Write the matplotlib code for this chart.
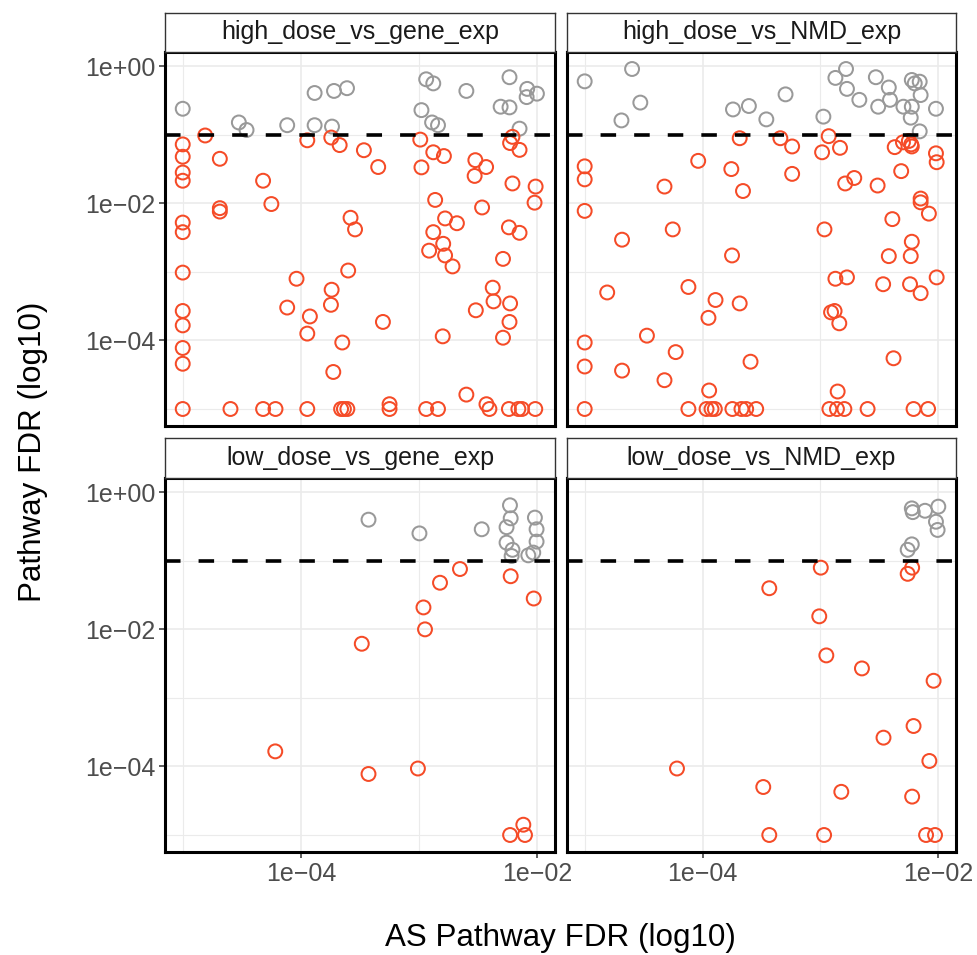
import matplotlib
matplotlib.use("Agg")
import matplotlib.pyplot as plt
import numpy as np

plt.rcParams["font.family"] = ["Liberation Sans", "DejaVu Sans"]

panel_names = [
    "high_dose_vs_gene_exp",
    "high_dose_vs_NMD_exp",
    "low_dose_vs_gene_exp",
    "low_dose_vs_NMD_exp",
]

# log10(AS pathway FDR), log10(pathway FDR)
hg_as = [-5.0, -4.525, -4.46, -4.116, -3.884, -3.884, -3.72, -3.61, -3.737, -2.94,
         -2.88, -2.6, -2.98, -2.89, -2.84, -2.235, -2.31, -2.235, -2.085, -2.09,
         -2.003, -2.15,
         -4.81, -5.0, -5.0, -5.0, -5.0, -4.686, -4.32, -4.25, -4.686, -4.686,
         -5.0, -5.0, -5.0, -5.0, -5.0, -5.0, -5.0, -5.0, -4.596, -4.32,
         -4.215, -3.946, -3.66, -3.636, -3.607, -3.946, -3.743, -3.672, -3.58, -3.542,
         -3.6, -4.037, -3.74, -3.746, -4.116, -3.924, -3.946, -3.65, -3.726, -3.467,
         -3.346, -2.99, -2.98, -2.88, -2.79, -2.524, -2.433, -2.53, -2.864, -2.78,
         -2.68, -2.88, -2.796, -2.915, -2.78, -2.717, -2.467, -2.21, -2.014, -2.023,
         -2.24, -2.15, -2.29, -2.21, -2.23, -2.15, -3.306, -2.8, -2.52, -2.377,
         -2.37, -2.23, -2.235, -2.29, -2.6, -3.25, -3.25, -2.94, -2.84, -2.43,
         -2.405, -2.24, -2.16, -2.13, -2.017]
hg_fdr = [-0.62, -0.82, -0.93, -0.86, -0.39, -0.86, -0.36, -0.32, -0.88, -0.19,
          -0.25, -0.36, -0.64, -0.82, -0.86, -0.16, -0.59, -0.6, -0.33, -0.45,
          -0.4, -0.91,
          -1.01, -1.14, -1.32, -1.55, -1.67, -1.35, -1.67, -2.01, -2.07, -2.12,
          -2.28, -2.42, -3.01, -3.57, -3.78, -4.11, -4.34, -5.0, -5.0, -5.0,
          -5.0, -5.0, -5.0, -5.0, -5.0, -1.08, -1.04, -1.15, -2.21, -2.38,
          -2.98, -3.1, -3.26, -3.48, -3.52, -3.65, -3.9, -4.03, -4.46, -1.225,
          -1.47, -1.07, -1.475, -1.255, -1.31, -1.37, -1.47, -1.6, -1.95, -2.22,
          -2.29, -2.42, -2.59, -2.69, -2.76, -2.92, -2.06, -1.71, -1.755, -1.99,
          -2.35, -2.43, -2.81, -1.03, -1.12, -1.22, -3.73, -3.94, -3.56, -3.23,
          -3.43, -3.46, -3.73, -3.96, -4.79, -4.93, -5.0, -5.0, -5.0, -4.93,
          -5.0, -5.0, -5.0, -5.0, -5.0]

hn_as = [-5.0, -4.598, -4.528, -4.688, -3.742, -3.607, -3.459, -2.783, -2.873, -2.775,
         -2.67, -3.296, -2.975, -2.53, -2.42, -2.51, -2.41, -2.225, -2.2, -2.158,
         -2.15, -2.296, -2.225, -2.234, -2.02, -2.158,
         -3.685, -4.037, -3.756, -3.657, -5.0, -5.0, -4.323, -5.0, -4.253, -4.683,
         -3.75, -4.809, -4.12, -3.89, -3.685, -3.95, -5.0, -4.472, -4.228, -5.0,
         -4.683, -4.323, -3.593, -3.944, -5.0, -4.12, -3.966, -3.924, -3.896, -3.747,
         -3.67, -3.63, -3.545, -3.34, -3.24, -3.24, -2.93, -2.986, -2.834, -2.79,
         -2.713, -2.515, -2.37, -2.3, -2.25, -2.23, -2.225, -2.315, -2.02, -2.014,
         -2.15, -2.15, -2.08, -2.39, -2.966, -2.225, -2.42, -2.234, -2.873, -2.775,
         -2.468, -2.24, -2.15, -2.014, -2.91, -2.88, -2.84, -2.38, -2.854, -2.924,
         -2.86, -2.797, -2.6, -2.21, -2.087]
hn_fdr = [-0.22, -0.04, -0.53, -0.79, -0.63, -0.58, -0.775, -0.04, -0.17, -0.33,
          -0.49, -0.41, -0.735, -0.16, -0.31, -0.59, -0.49, -0.2, -0.25, -0.225,
          -0.42, -0.59, -0.59, -0.75, -0.62, -0.95,
          -1.05, -1.38, -1.5, -1.82, -1.46, -1.65, -1.755, -2.11, -2.38, -2.53,
          -2.76, -3.3, -3.22, -3.41, -3.46, -3.67, -4.03, -3.93, -4.17, -4.38,
          -4.44, -4.58, -4.31, -4.73, -5.0, -5.0, -5.0, -5.0, -5.0, -5.0,
          -5.0, -5.0, -5.0, -1.05, -1.17, -1.57, -1.02, -1.255, -1.19, -1.71,
          -1.63, -1.74, -1.18, -1.11, -1.09, -1.14, -1.17, -1.53, -1.27, -1.4,
          -1.93, -1.985, -2.15, -2.23, -2.38, -2.56, -2.77, -2.77, -3.1, -3.08,
          -3.18, -3.18, -3.31, -3.08, -3.59, -3.57, -3.75, -4.26, -4.745, -5.0,
          -5.0, -5.0, -5.0, -5.0, -5.0]

lg_as = [-3.428, -2.997, -2.47, -2.231, -2.225, -2.26, -2.26, -2.21, -2.217, -2.02,
         -2.006, -2.006, -2.034, -2.076,
         -2.654, -2.823, -2.963, -2.95, -3.485, -2.225, -2.03, -4.217, -3.428, -3.01,
         -2.118, -2.23, -2.104]
lg_fdr = [-0.4, -0.6, -0.54, -0.19, -0.38, -0.51, -0.735, -0.84, -0.93, -0.37,
          -0.54, -0.72, -0.88, -0.92,
          -1.12, -1.32, -1.68, -2.0, -2.21, -1.225, -1.55, -3.78, -4.11, -4.03,
          -4.85, -5.0, -5.0]

ln_as = [-2.225, -2.217, -2.113, -2.0, -2.02, -2.006, -2.225, -2.26,
         -2.997, -2.222, -2.26, -3.434, -3.01, -2.95, -2.648, -2.04, -2.21, -2.465,
         -2.076, -4.217, -3.485, -2.823, -2.222, -3.434, -2.969, -2.104, -2.028]
ln_fdr = [-0.235, -0.29, -0.27, -0.21, -0.43, -0.55, -0.76, -0.84,
          -1.1, -1.1, -1.19, -1.4, -1.81, -2.38, -2.57, -2.75, -3.41, -3.58,
          -3.92, -4.03, -4.3, -4.37, -4.44, -5.0, -5.0, -5.0, -5.0]

panel_x = [hg_as, hn_as, lg_as, ln_as]
panel_y = [hg_fdr, hn_fdr, lg_fdr, ln_fdr]
cutoff = 0.1

sig_col = "#F54B27"
ns_col = "#999999"

W, H = 977, 955
fig = plt.figure(figsize=(W / 100, H / 100), dpi=100)

# shared (fixed) scales with ggplot-style 5% expansion
allx = np.concatenate([np.array(v) for v in panel_x])
ally = np.concatenate([np.array(v) for v in panel_y])
ex = 0.05 * (allx.max() - allx.min())
ey = 0.05 * (ally.max() - ally.min())
xlim = (10 ** (allx.min() - ex), 10 ** (allx.max() + ex))
ylim = (10 ** (ally.min() - ey), 10 ** (ally.max() + ey))

# pixel boxes: (left, right) per column, (top, bottom, strip top) per row
cols = [(165, 555), (567, 956)]
rows = [(52, 426, 13), (478, 852, 438)]

tick_col = "#4D4D4D"
for i in range(4):
    r, c = divmod(i, 2)
    x0, x1 = cols[c]
    y0, y1, st = rows[r]
    ax = fig.add_axes([x0 / W, 1 - y1 / H, (x1 - x0) / W, (y1 - y0) / H])
    xs = np.power(10.0, panel_x[i])
    ys = np.power(10.0, panel_y[i])
    colors = [ns_col if v > cutoff else sig_col for v in ys]
    ax.scatter(xs, ys, s=100, facecolors="none", edgecolors=colors,
               linewidths=1.45, zorder=2, clip_on=False)
    ax.axhline(cutoff, color="black", lw=2.6, dashes=(4.3, 5.0), zorder=3)
    ax.set_xscale("log")
    ax.set_yscale("log")
    ax.set_xlim(*xlim)
    ax.set_ylim(*ylim)
    ax.set_xticks([1e-4, 1e-2])
    ax.set_xticks([1e-5, 1e-3], minor=True)
    ax.set_yticks([1e0, 1e-2, 1e-4])
    ax.set_yticks([1e-1, 1e-3, 1e-5], minor=True)
    ax.set_xticklabels(["1e\u221204", "1e\u221202"])
    ax.set_yticklabels(["1e+00", "1e\u221202", "1e\u221204"])
    ax.set_xticklabels([], minor=True)
    ax.set_yticklabels([], minor=True)
    ax.grid(True, which="major", color="#EBEBEB", lw=1.2, zorder=0)
    ax.grid(True, which="minor", color="#EBEBEB", lw=0.8, zorder=0)
    ax.set_axisbelow(True)
    ax.tick_params(which="minor", length=0)
    ax.tick_params(which="major", length=4, width=1.1, color="#333333",
                   labelsize=18, labelcolor=tick_col, pad=3)
    if c == 1:
        ax.tick_params(axis="y", length=0, labelleft=False)
    if r == 0:
        ax.tick_params(axis="x", length=0, labelbottom=False)
    for sp in ax.spines.values():
        sp.set_linewidth(2.2)
        sp.set_color("black")
        sp.set_zorder(4)

    sax = fig.add_axes([x0 / W, 1 - y0 / H, (x1 - x0) / W, (y0 - st) / H])
    sax.set_xticks([])
    sax.set_yticks([])
    for sp in sax.spines.values():
        sp.set_linewidth(1.0)
        sp.set_color("#333333")
    sax.text(0.5, 0.5, panel_names[i], ha="center", va="center",
             fontsize=18, color="#1A1A1A", transform=sax.transAxes)

fig.text(560 / W, 1 - 938 / H, "AS Pathway FDR (log10)", ha="center",
         va="center", fontsize=22.6)
fig.text(33 / W, 1 - 452 / H, "Pathway FDR (log10)", ha="center",
         va="center", rotation=90, fontsize=22.6)

fig.savefig("out.png", dpi=100)
